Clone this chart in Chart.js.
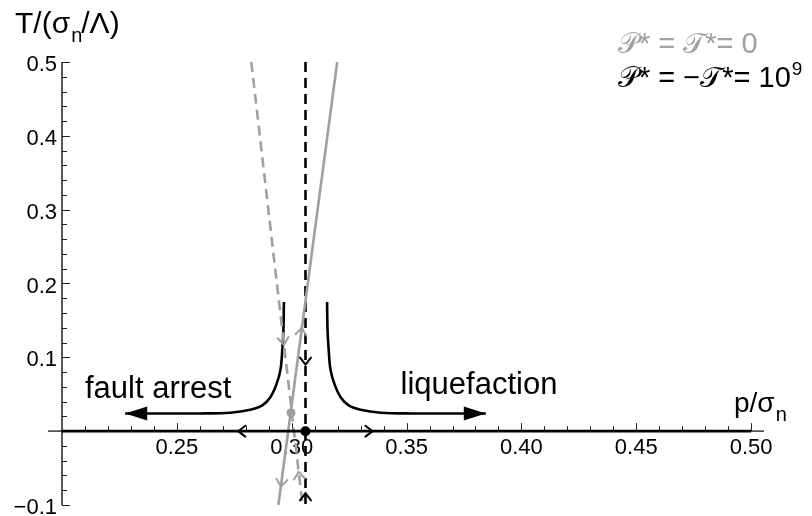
<!DOCTYPE html>
<html>
<head>
<meta charset="utf-8">
<script src="https://cdn.jsdelivr.net/npm/chart.js@4.4.0/dist/chart.umd.min.js"></script>
<style>
html, body { margin: 0; padding: 0; background: #fff; }
#caja { width: 812px; height: 516px; }
</style>
</head>
<body>
<div id="caja"><canvas id="grafico-flujo"></canvas></div>
<script>
// ticks
var xTicks = [0.25, 0.30, 0.35, 0.40, 0.45, 0.50];
var xTickLabels = ["0.25", "0.30", "0.35", "0.40", "0.45", "0.50"];
var yTicks = [-0.1, 0.1, 0.2, 0.3, 0.4, 0.5];
var yTickLabels = ["\u22120.1", "0.1", "0.2", "0.3", "0.4", "0.5"];

// lineas rectas (p, T)
var grayDashedP = [0.2824, 0.3047];
var grayDashedT = [0.5, -0.1];
var graySolidP = [0.3198, 0.2942];
var graySolidT = [0.5, -0.1];
var blackDashedP = [0.306, 0.306];
var blackDashedT = [0.5, -0.1];
var axisLineP = [0.2, 0.5];
var axisLineT = [0, 0];

// curvas negras
var leftCurveP = [0.2966, 0.2964, 0.2959, 0.2951, 0.2933, 0.2907, 0.2872, 0.2820, 0.2733, 0.2600, 0.2275];
var leftCurveT = [0.175, 0.137, 0.110, 0.083, 0.063, 0.046, 0.035, 0.029, 0.025, 0.024, 0.024];
var rightCurveP = [0.3154, 0.3156, 0.3161, 0.3169, 0.3187, 0.3213, 0.3248, 0.3300, 0.3387, 0.3520, 0.3845];
var rightCurveT = [0.175, 0.137, 0.110, 0.083, 0.063, 0.046, 0.035, 0.029, 0.025, 0.024, 0.024];

// puntos fijos
var grayPointP = [0.2997];
var grayPointT = [0.025];
var blackPointP = [0.306];
var blackPointT = [0];

// flechitas abiertas: punta y hacia donde apunta
var chevTipP = [0.3044, 0.2953, 0.2966, 0.3030, 0.306, 0.306, 0.2767, 0.3352];
var chevTipT = [0.14, -0.075, 0.117, -0.055, 0.09, -0.084, 0, 0];
var chevToP = [0.3198, 0.2942, 0.3047, 0.2824, 0.306, 0.306, 0.2, 0.5];
var chevToT = [0.5, -0.1, -0.1, 0.5, -0.1, 0.5, 0, 0];
var chevColor = ['#a0a0a0', '#a0a0a0', '#a0a0a0', '#a0a0a0', '#000', '#000', '#000', '#000'];

// flechas grandes al final de las curvas
var bigTipP = [0.2275, 0.3845];
var bigTipT = [0.024, 0.024];
var bigToP = [0.2, 0.5];

var gris = '#a0a0a0';
var fuente = "'Liberation Sans', Arial, Helvetica, sans-serif";

function puntos(ps, ts) {
    var r = [];
    for (var i = 0; i < ps.length; i++) r.push({x: ps[i], y: ts[i]});
    return r;
}

function linea(ps, ts, color, dash, tension) {
    return {
        data: puntos(ps, ts),
        showLine: true,
        borderColor: color,
        backgroundColor: color,
        borderWidth: 2.6,
        borderDash: dash,
        pointRadius: 0,
        tension: tension || 0,
        fill: false
    };
}

var ejes = {
    id: 'ejes',
    beforeDatasetsDraw: function (chart) {
        var ctx = chart.ctx;
        var xs = chart.scales.x, ys = chart.scales.y;
        var y0 = ys.getPixelForValue(0);
        var xl = xs.getPixelForValue(0.2);
        ctx.save();
        // eje x
        ctx.strokeStyle = '#555';
        ctx.lineWidth = 1.6;
        ctx.beginPath();
        ctx.moveTo(xl - 14, y0);
        ctx.lineTo(chart.chartArea.right, y0);
        ctx.stroke();
        // eje y
        ctx.strokeStyle = '#000';
        ctx.lineWidth = 1.3;
        ctx.beginPath();
        ctx.moveTo(xl, ys.getPixelForValue(-0.1));
        ctx.lineTo(xl, ys.getPixelForValue(0.5));
        ctx.stroke();
        ctx.lineWidth = 1;
        ctx.strokeStyle = '#222';
        // ticks x
        for (var k = 21; k <= 50; k++) {
            var v = k / 100;
            var px = Math.round(xs.getPixelForValue(v)) + 0.5;
            var largo = (k % 5 === 0) ? 8 : 5;
            ctx.beginPath();
            ctx.moveTo(px, y0);
            ctx.lineTo(px, y0 - largo);
            ctx.stroke();
        }
        // ticks y
        for (var j = -5; j <= 25; j++) {
            var w = j / 50;
            var py = Math.round(ys.getPixelForValue(w)) + 0.5;
            var l2 = (j % 5 === 0) ? 8 : 5;
            ctx.beginPath();
            ctx.moveTo(xl, py);
            ctx.lineTo(xl + l2, py);
            ctx.stroke();
        }
        // etiquetas
        ctx.fillStyle = '#000';
        ctx.font = '22px ' + fuente;
        ctx.textAlign = 'center';
        ctx.textBaseline = 'alphabetic';
        for (var i = 0; i < xTicks.length; i++) {
            ctx.fillText(xTickLabels[i], xs.getPixelForValue(xTicks[i]), y0 + 23);
        }
        ctx.textAlign = 'right';
        ctx.textBaseline = 'middle';
        for (var n = 0; n < yTicks.length; n++) {
            ctx.fillText(yTickLabels[n], xl - 5, ys.getPixelForValue(yTicks[n]) + 3);
        }
        ctx.restore();
    },
    afterDatasetsDraw: function (chart) {
        var ctx = chart.ctx;
        var xs = chart.scales.x, ys = chart.scales.y;
        ctx.save();
        // flechitas abiertas
        ctx.lineWidth = 2;
        ctx.lineCap = 'round';
        for (var i = 0; i < chevTipP.length; i++) {
            var tx = xs.getPixelForValue(chevTipP[i]), ty = ys.getPixelForValue(chevTipT[i]);
            var ox = xs.getPixelForValue(chevToP[i]), oy = ys.getPixelForValue(chevToT[i]);
            var d = Math.hypot(ox - tx, oy - ty);
            var ux = (ox - tx) / d, uy = (oy - ty) / d;
            var a = 0.65, L = 9;
            ctx.strokeStyle = chevColor[i];
            ctx.beginPath();
            ctx.moveTo(tx - L * (ux * Math.cos(a) - uy * Math.sin(a)), ty - L * (ux * Math.sin(a) + uy * Math.cos(a)));
            ctx.lineTo(tx, ty);
            ctx.lineTo(tx - L * (ux * Math.cos(-a) - uy * Math.sin(-a)), ty - L * (ux * Math.sin(-a) + uy * Math.cos(-a)));
            ctx.stroke();
        }
        // flechas grandes
        ctx.fillStyle = '#000';
        for (var b = 0; b < bigTipP.length; b++) {
            var bx = xs.getPixelForValue(bigTipP[b]), by = ys.getPixelForValue(bigTipT[b]);
            var s = bigToP[b] < bigTipP[b] ? -1 : 1;
            ctx.beginPath();
            ctx.moveTo(bx, by);
            ctx.lineTo(bx - s * 22, by - 7);
            ctx.lineTo(bx - s * 22, by + 7);
            ctx.closePath();
            ctx.fill();
        }
        // textos
        ctx.font = '31px ' + fuente;
        ctx.textAlign = 'left';
        ctx.textBaseline = 'alphabetic';
        ctx.fillText('fault arrest', xs.getPixelForValue(0.2100), ys.getPixelForValue(0.0454));
        ctx.fillText('liquefaction', xs.getPixelForValue(0.3474), ys.getPixelForValue(0.0500));

        // titulo eje y
        ctx.font = '30px ' + fuente;
        var x = 15;
        ctx.fillText('T/(\u03c3', x, 33);
        x += ctx.measureText('T/(\u03c3').width;
        ctx.font = '20px ' + fuente;
        ctx.fillText('n', x + 1, 42);
        x += ctx.measureText('n').width;
        ctx.font = '30px ' + fuente;
        ctx.fillText('/\u039b)', x, 33);

        // titulo eje x
        ctx.font = '28px ' + fuente;
        x = 734;
        ctx.fillText('p/\u03c3', x, 412);
        x += ctx.measureText('p/\u03c3').width;
        ctx.font = '20px ' + fuente;
        ctx.fillText('n', x + 1, 421);

        // leyenda
        ctx.font = '29px ' + fuente;
        ctx.fillStyle = gris;
        ctx.fillText('\ud835\udcab* = \ud835\udcaf*= 0', 618, 53);
        ctx.fillStyle = '#000';
        var t2 = '\ud835\udcab* = \u2212\ud835\udcaf*= 10';
        ctx.fillText(t2, 618, 87);
        x = 618 + ctx.measureText(t2).width;
        ctx.font = '19px ' + fuente;
        ctx.fillText('9', x + 1, 75);
        ctx.restore();
    }
};

const ctx = document.getElementById('grafico-flujo');
var miGrafico = new Chart(ctx, {
    type: 'scatter',
    data: {
        datasets: [
            linea(axisLineP, axisLineT, '#000', []),
            linea(grayDashedP, grayDashedT, gris, [10, 6]),
            linea(graySolidP, graySolidT, gris, []),
            linea(blackDashedP, blackDashedT, '#000', [10, 6]),
            linea(leftCurveP, leftCurveT, '#000', [], 0.35),
            linea(rightCurveP, rightCurveT, '#000', [], 0.35),
            {data: puntos(grayPointP, grayPointT), pointRadius: 4.5, backgroundColor: gris, borderColor: gris, borderWidth: 0},
            {data: puntos(blackPointP, blackPointT), pointRadius: 5, backgroundColor: '#000', borderColor: '#000', borderWidth: 0}
        ]
    },
    options: {
        responsive: true,
        maintainAspectRatio: false,
        animation: false,
        events: [],
        layout: { padding: { left: 62, top: 62, right: 48, bottom: 11 } },
        plugins: { legend: { display: false }, tooltip: { enabled: false } },
        scales: {
            x: { type: 'linear', min: 0.2, max: 0.5056, display: false },
            y: { type: 'linear', min: -0.1, max: 0.5, display: false }
        }
    },
    plugins: [ejes]
});
</script>
</body>
</html>
